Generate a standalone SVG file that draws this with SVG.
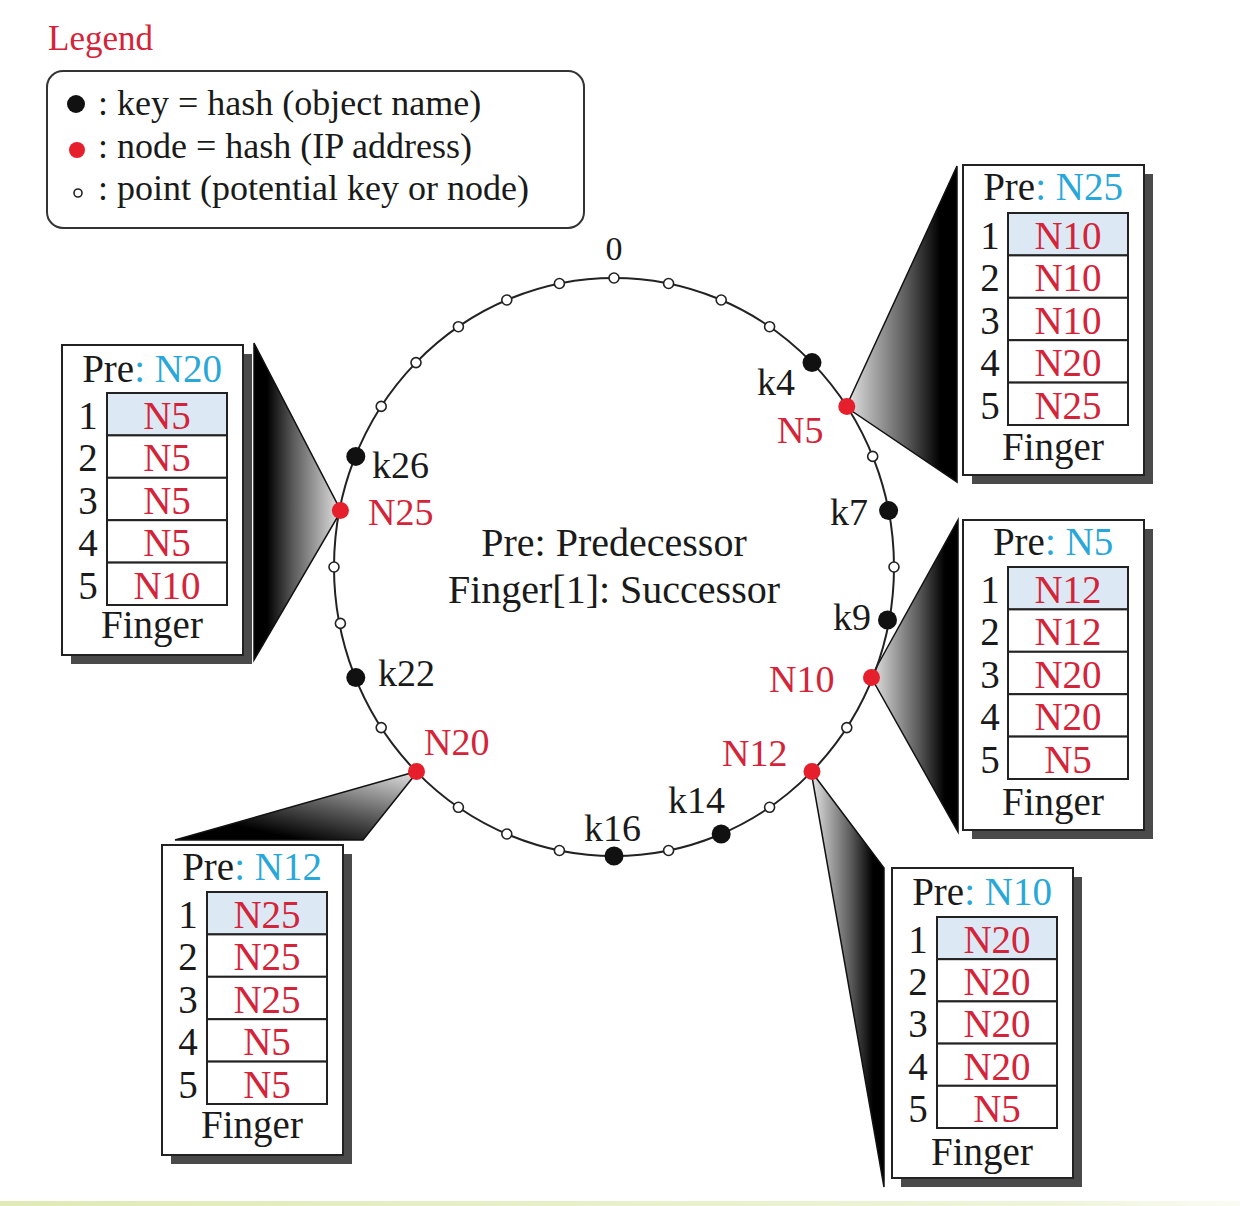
<svg xmlns="http://www.w3.org/2000/svg" width="1240" height="1206" viewBox="0 0 1240 1206">
<style>
text{font-family:"Liberation Serif","Times New Roman",serif;fill:#1a1a1a}
.red{fill:#d3243a}
.cyan{fill:#2aa7d9}
.lg{font-size:36px}
.ring{font-size:38px}
.ctr{font-size:40px}
.tb{font-size:39px}
.mid{text-anchor:middle}
.box{fill:#fff;stroke:#222;stroke-width:2}
.shadow{fill:#4a4a4a}
.cell{fill:#fff;stroke:#222;stroke-width:2}
.cell1{fill:#dce9f5;stroke:#222;stroke-width:2}
.key{fill:#111}
.node{fill:#e51f2b}
.pt{fill:#fff;stroke:#222;stroke-width:1.6}
.spot{stroke:#111;stroke-width:1.5;stroke-linejoin:miter}
</style>
<defs>
<linearGradient id="gR" x1="0" y1="0" x2="1" y2="0">
<stop offset="0" stop-color="#e6e6e6"/><stop offset="0.55" stop-color="#5a5a5a"/><stop offset="0.85" stop-color="#000"/><stop offset="1" stop-color="#000"/>
</linearGradient>
<linearGradient id="gL" x1="1" y1="0" x2="0" y2="0">
<stop offset="0" stop-color="#e6e6e6"/><stop offset="0.55" stop-color="#5a5a5a"/><stop offset="0.85" stop-color="#000"/><stop offset="1" stop-color="#000"/>
</linearGradient>
<linearGradient id="gB" x1="1" y1="0" x2="0.2" y2="1">
<stop offset="0" stop-color="#e6e6e6"/><stop offset="0.5" stop-color="#5a5a5a"/><stop offset="0.85" stop-color="#000"/><stop offset="1" stop-color="#000"/>
</linearGradient>
<linearGradient id="gG" x1="0" y1="0" x2="1" y2="0">
<stop offset="0" stop-color="#dfeab6"/><stop offset="0.85" stop-color="#eef4da"/><stop offset="1" stop-color="#fafcf3"/>
</linearGradient>
</defs>
<rect width="1240" height="1206" fill="#fff"/>
<rect x="0" y="1201" width="1240" height="5" fill="url(#gG)"/>

<g id="legend">
<text x="48" y="50" class="red" style="font-size:35px">Legend</text>
<rect x="47" y="71" width="537" height="157" rx="16" fill="#fff" stroke="#333" stroke-width="2"/>
<circle cx="76" cy="104" r="9" class="key"/>
<text x="98" y="115" class="lg">: key = hash (object name)</text>
<circle cx="77" cy="150" r="8" class="node"/>
<text x="98" y="158" class="lg">: node = hash (IP address)</text>
<circle cx="78" cy="193" r="4" class="pt"/>
<text x="98" y="200" class="lg">: point (potential key or node)</text>
</g>

<g id="connectors">
<polygon class="spot" fill="url(#gR)" points="846,407 957,166 957,482"/>
<polygon class="spot" fill="url(#gL)" points="341,511 254,343 254,660"/>
<polygon class="spot" fill="url(#gR)" points="871,677 958,520 958,832"/>
<polygon class="spot" fill="url(#gB)" points="418,771 175,840 363,840"/>
<polygon class="spot" fill="url(#gR)" points="811,771 884,868 884,1187"/>
</g>

<g id="ring">
<ellipse cx="614" cy="567" rx="280" ry="289" fill="none" stroke="#222" stroke-width="2"/>
<circle class="pt" cx="614" cy="278" r="5"/>
<circle class="pt" cx="668.6" cy="283.5" r="5"/>
<circle class="pt" cx="721.2" cy="300" r="5"/>
<circle class="pt" cx="769.6" cy="326.7" r="5"/>
<circle class="key" cx="812" cy="362.6" r="9.5"/>
<circle class="node" cx="846.8" cy="406.4" r="8.5"/>
<circle class="pt" cx="872.7" cy="456.4" r="5"/>
<circle class="key" cx="888.6" cy="510.6" r="9.5"/>
<circle class="pt" cx="894" cy="567" r="5"/>
<circle class="key" cx="887.5" cy="620" r="9.5"/>
<circle class="node" cx="871.5" cy="677.6" r="8.5"/>
<circle class="pt" cx="846.8" cy="727.6" r="5"/>
<circle class="node" cx="812" cy="771.4" r="8.5"/>
<circle class="pt" cx="769.6" cy="807.3" r="5"/>
<circle class="key" cx="721.2" cy="834" r="9.5"/>
<circle class="pt" cx="668.6" cy="850.5" r="5"/>
<circle class="key" cx="614" cy="856" r="9.5"/>
<circle class="pt" cx="559.4" cy="850.5" r="5"/>
<circle class="pt" cx="506.8" cy="834" r="5"/>
<circle class="pt" cx="458.4" cy="807.3" r="5"/>
<circle class="node" cx="416.5" cy="771.4" r="8.5"/>
<circle class="pt" cx="381.2" cy="727.6" r="5"/>
<circle class="key" cx="355.8" cy="677.6" r="9.5"/>
<circle class="pt" cx="340.4" cy="623.4" r="5"/>
<circle class="pt" cx="334" cy="567" r="5"/>
<circle class="node" cx="340.4" cy="510.6" r="8.5"/>
<circle class="key" cx="355.8" cy="456.4" r="9.5"/>
<circle class="pt" cx="381.2" cy="406.4" r="5"/>
<circle class="pt" cx="416" cy="362.6" r="5"/>
<circle class="pt" cx="458.4" cy="326.7" r="5"/>
<circle class="pt" cx="506.8" cy="300" r="5"/>
<circle class="pt" cx="559.4" cy="283.5" r="5"/>
<text x="614" y="260" class="mid" style="font-size:34px">0</text>
<text x="757" y="395" class="ring">k4</text>
<text x="777" y="443" class="ring red">N5</text>
<text x="830" y="525" class="ring">k7</text>
<text x="833" y="630" class="ring">k9</text>
<text x="769" y="692" class="ring red">N10</text>
<text x="722" y="766" class="ring red">N12</text>
<text x="668" y="813" class="ring">k14</text>
<text x="584" y="841" class="ring">k16</text>
<text x="424" y="755" class="ring red">N20</text>
<text x="378" y="686" class="ring">k22</text>
<text x="368" y="525" class="ring red">N25</text>
<text x="372" y="478" class="ring">k26</text>
<text x="614" y="556" class="ctr mid">Pre: Predecessor</text>
<text x="614" y="603" class="ctr mid">Finger[1]: Successor</text>
</g>

<g id="table-N5" transform="translate(963,165)">
<rect x="9" y="9" width="181" height="310" class="shadow"/>
<rect x="0" y="0" width="181" height="310" class="box"/>
<text x="90" y="35" class="tb mid">Pre<tspan class="cyan">: N25</tspan></text>
<rect x="45" y="48" width="120" height="42.4" class="cell1"/>
<rect x="45" y="90.4" width="120" height="42.4" class="cell"/>
<rect x="45" y="132.8" width="120" height="42.4" class="cell"/>
<rect x="45" y="175.2" width="120" height="42.4" class="cell"/>
<rect x="45" y="217.6" width="120" height="42.4" class="cell"/>
<text x="27" y="84" class="tb mid">1</text><text x="105" y="84" class="tb mid red">N10</text>
<text x="27" y="126.4" class="tb mid">2</text><text x="105" y="126.4" class="tb mid red">N10</text>
<text x="27" y="168.8" class="tb mid">3</text><text x="105" y="168.8" class="tb mid red">N10</text>
<text x="27" y="211.2" class="tb mid">4</text><text x="105" y="211.2" class="tb mid red">N20</text>
<text x="27" y="253.6" class="tb mid">5</text><text x="105" y="253.6" class="tb mid red">N25</text>
<text x="90" y="295" class="tb mid">Finger</text>
</g>

<g id="table-N25" transform="translate(62,345)">
<rect x="9" y="9" width="181" height="310" class="shadow"/>
<rect x="0" y="0" width="181" height="310" class="box"/>
<text x="90" y="37" class="tb mid">Pre<tspan class="cyan">: N20</tspan></text>
<rect x="45" y="48" width="120" height="42.4" class="cell1"/>
<rect x="45" y="90.4" width="120" height="42.4" class="cell"/>
<rect x="45" y="132.8" width="120" height="42.4" class="cell"/>
<rect x="45" y="175.2" width="120" height="42.4" class="cell"/>
<rect x="45" y="217.6" width="120" height="42.4" class="cell"/>
<text x="26" y="84" class="tb mid">1</text><text x="105" y="84" class="tb mid red">N5</text>
<text x="26" y="126.4" class="tb mid">2</text><text x="105" y="126.4" class="tb mid red">N5</text>
<text x="26" y="168.8" class="tb mid">3</text><text x="105" y="168.8" class="tb mid red">N5</text>
<text x="26" y="211.2" class="tb mid">4</text><text x="105" y="211.2" class="tb mid red">N5</text>
<text x="26" y="253.6" class="tb mid">5</text><text x="105" y="253.6" class="tb mid red">N10</text>
<text x="90" y="293" class="tb mid">Finger</text>
</g>

<g id="table-N10" transform="translate(963,520)">
<rect x="9" y="9" width="181" height="310" class="shadow"/>
<rect x="0" y="0" width="181" height="310" class="box"/>
<text x="90" y="35" class="tb mid">Pre<tspan class="cyan">: N5</tspan></text>
<rect x="45" y="47" width="120" height="42.4" class="cell1"/>
<rect x="45" y="89.4" width="120" height="42.4" class="cell"/>
<rect x="45" y="131.8" width="120" height="42.4" class="cell"/>
<rect x="45" y="174.2" width="120" height="42.4" class="cell"/>
<rect x="45" y="216.6" width="120" height="42.4" class="cell"/>
<text x="27" y="83" class="tb mid">1</text><text x="105" y="83" class="tb mid red">N12</text>
<text x="27" y="125.4" class="tb mid">2</text><text x="105" y="125.4" class="tb mid red">N12</text>
<text x="27" y="167.8" class="tb mid">3</text><text x="105" y="167.8" class="tb mid red">N20</text>
<text x="27" y="210.2" class="tb mid">4</text><text x="105" y="210.2" class="tb mid red">N20</text>
<text x="27" y="252.6" class="tb mid">5</text><text x="105" y="252.6" class="tb mid red">N5</text>
<text x="90" y="295" class="tb mid">Finger</text>
</g>

<g id="table-N20" transform="translate(162,845)">
<rect x="9" y="9" width="181" height="310" class="shadow"/>
<rect x="0" y="0" width="181" height="310" class="box"/>
<text x="90" y="35" class="tb mid">Pre<tspan class="cyan">: N12</tspan></text>
<rect x="45" y="47" width="120" height="42.4" class="cell1"/>
<rect x="45" y="89.4" width="120" height="42.4" class="cell"/>
<rect x="45" y="131.8" width="120" height="42.4" class="cell"/>
<rect x="45" y="174.2" width="120" height="42.4" class="cell"/>
<rect x="45" y="216.6" width="120" height="42.4" class="cell"/>
<text x="26" y="83" class="tb mid">1</text><text x="105" y="83" class="tb mid red">N25</text>
<text x="26" y="125.4" class="tb mid">2</text><text x="105" y="125.4" class="tb mid red">N25</text>
<text x="26" y="167.8" class="tb mid">3</text><text x="105" y="167.8" class="tb mid red">N25</text>
<text x="26" y="210.2" class="tb mid">4</text><text x="105" y="210.2" class="tb mid red">N5</text>
<text x="26" y="252.6" class="tb mid">5</text><text x="105" y="252.6" class="tb mid red">N5</text>
<text x="90" y="293" class="tb mid">Finger</text>
</g>

<g id="table-N12" transform="translate(892,868)">
<rect x="9" y="9" width="181" height="310" class="shadow"/>
<rect x="0" y="0" width="181" height="310" class="box"/>
<text x="90" y="37" class="tb mid">Pre<tspan class="cyan">: N10</tspan></text>
<rect x="45" y="49" width="120" height="42.2" class="cell1"/>
<rect x="45" y="91.2" width="120" height="42.2" class="cell"/>
<rect x="45" y="133.4" width="120" height="42.2" class="cell"/>
<rect x="45" y="175.6" width="120" height="42.2" class="cell"/>
<rect x="45" y="217.8" width="120" height="42.2" class="cell"/>
<text x="26" y="85" class="tb mid">1</text><text x="105" y="85" class="tb mid red">N20</text>
<text x="26" y="127.2" class="tb mid">2</text><text x="105" y="127.2" class="tb mid red">N20</text>
<text x="26" y="169.4" class="tb mid">3</text><text x="105" y="169.4" class="tb mid red">N20</text>
<text x="26" y="211.6" class="tb mid">4</text><text x="105" y="211.6" class="tb mid red">N20</text>
<text x="26" y="253.8" class="tb mid">5</text><text x="105" y="253.8" class="tb mid red">N5</text>
<text x="90" y="297" class="tb mid">Finger</text>
</g>
</svg>
